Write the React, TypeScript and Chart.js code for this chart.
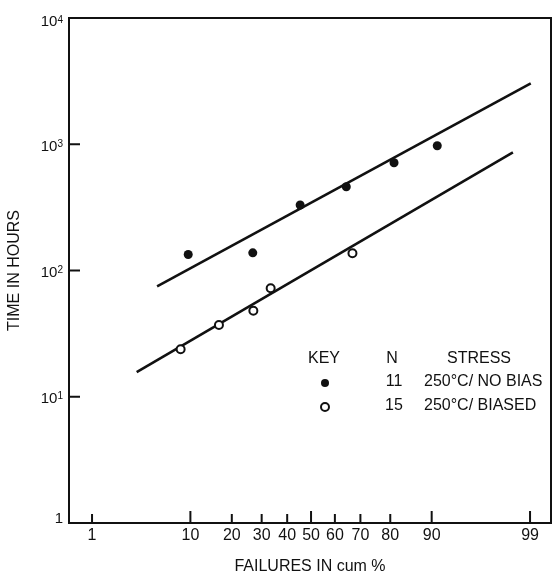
import { useEffect, useRef } from "react";
import { Chart, registerables } from "chart.js";

Chart.register(...registerables);

// ---- Data ----
const X_TICK_PCT = [1, 10, 20, 30, 40, 50, 60, 70, 80, 90, 99];
const X_TICK_LABELS = ["1", "10", "20", "30", "40", "50", "60", "70", "80", "90", "99"];
const X_MAJOR_TICKS = [10, 50, 90, 99];
const Y_TICK_VALUES = [1, 10, 100, 1000, 10000];
const Y_TICK_BASES = ["1", "10", "10", "10", "10"];
const Y_TICK_EXPONENTS = ["", "1", "2", "3", "4"];

const NO_BIAS_PCT = [9.6, 26.8, 45.4, 64.6, 81.1, 91.0];
const NO_BIAS_HOURS = [134, 138, 330, 461, 714, 973];
const BIASED_PCT = [8.3, 16.4, 27.0, 33.4, 67.0];
const BIASED_HOURS = [23.8, 37.0, 48.0, 72.3, 137];

const NO_BIAS_FIT_PCT = [5.1, 99.02];
const NO_BIAS_FIT_HOURS = [75, 3040];
const BIASED_FIT_PCT = [3.2, 98.4];
const BIASED_FIT_HOURS = [15.7, 863];

const LEGEND_HEADERS = ["KEY", "N", "STRESS"];
const LEGEND_N = ["11", "15"];
const LEGEND_STRESS = ["250\u00B0C/ NO BIAS", "250\u00B0C/ BIASED"];

// x axis range in probit (z) units
const X_MIN = -2.571;
const X_MAX = 2.549;

const FONT = "'Liberation Sans', Arial, Helvetica, sans-serif";

// Inverse normal CDF (Acklam), input in percent
function probit(pct: number): number {
  const p = pct / 100;
  const a = [-3.969683028665376e1, 2.209460984245205e2, -2.759285104469687e2, 1.38357751867269e2, -3.066479806614716e1, 2.506628277459239];
  const b = [-5.447609879822406e1, 1.615858368580409e2, -1.556989798598866e2, 6.680131188771972e1, -1.328068155288572e1];
  const c = [-7.784894002430293e-3, -3.223964580411365e-1, -2.400758277161838, -2.549732539343734, 4.374664141464968, 2.938163982698783];
  const d = [7.784695709041462e-3, 3.224671290700398e-1, 2.445134137142996, 3.754408661907416];
  const pl = 0.02425;
  const ph = 1 - pl;
  if (p < pl) {
    const q = Math.sqrt(-2 * Math.log(p));
    return (((((c[0] * q + c[1]) * q + c[2]) * q + c[3]) * q + c[4]) * q + c[5]) / ((((d[0] * q + d[1]) * q + d[2]) * q + d[3]) * q + 1);
  }
  if (p <= ph) {
    const q = p - 0.5;
    const r = q * q;
    return ((((((a[0] * r + a[1]) * r + a[2]) * r + a[3]) * r + a[4]) * r + a[5]) * q) / (((((b[0] * r + b[1]) * r + b[2]) * r + b[3]) * r + b[4]) * r + 1);
  }
  const q = Math.sqrt(-2 * Math.log(1 - p));
  return -(((((c[0] * q + c[1]) * q + c[2]) * q + c[3]) * q + c[4]) * q + c[5]) / ((((d[0] * q + d[1]) * q + d[2]) * q + d[3]) * q + 1);
}

const toPoints = (pcts: number[], hours: number[]) => pcts.map((p, i) => ({ x: probit(p), y: hours[i] }));

const framePlugin = {
  id: "frameAndKey",
  afterDraw(chart: any) {
    const { ctx, chartArea, scales } = chart;
    const { left, right, top, bottom } = chartArea;
    ctx.save();
    ctx.strokeStyle = "#111";
    ctx.lineWidth = 2;
    ctx.strokeRect(left, top, right - left, bottom - top);

    // inward ticks on x
    X_TICK_PCT.forEach((p) => {
      const x = scales.x.getPixelForValue(probit(p));
      const len = X_MAJOR_TICKS.includes(p) ? 12 : 9;
      ctx.beginPath();
      ctx.moveTo(x, bottom);
      ctx.lineTo(x, bottom - len);
      ctx.stroke();
    });
    // inward ticks on y + labels with superscript exponents
    ctx.fillStyle = "#111";
    Y_TICK_VALUES.forEach((v, i) => {
      const y = scales.y.getPixelForValue(v);
      ctx.beginPath();
      ctx.moveTo(left, y);
      ctx.lineTo(left + 11, y);
      ctx.stroke();

      const cy = Math.max(top + 3, Math.min(y + 1, bottom - 5.5));
      const baseFont = `15px ${FONT}`;
      const expFont = `10px ${FONT}`;
      ctx.font = expFont;
      const ew = Y_TICK_EXPONENTS[i] ? ctx.measureText(Y_TICK_EXPONENTS[i]).width : 0;
      ctx.font = baseFont;
      const bw = ctx.measureText(Y_TICK_BASES[i]).width;
      const rightEdge = left - 6;
      const x0 = rightEdge - ew - bw;
      ctx.textAlign = "left";
      ctx.textBaseline = "alphabetic";
      ctx.fillText(Y_TICK_BASES[i], x0, cy + 5.4);
      if (Y_TICK_EXPONENTS[i]) {
        ctx.font = expFont;
        ctx.fillText(Y_TICK_EXPONENTS[i], x0 + bw, cy + 1.5);
      }
    });

    // key / legend table
    ctx.fillStyle = "#111";
    ctx.font = `16px ${FONT}`;
    ctx.textBaseline = "middle";
    ctx.textAlign = "center";
    ctx.fillText(LEGEND_HEADERS[0], 324, 359);
    ctx.fillText(LEGEND_HEADERS[1], 392, 359);
    ctx.fillText(LEGEND_HEADERS[2], 479, 359);
    const rows = [382, 406];
    rows.forEach((y, i) => {
      ctx.textAlign = "center";
      ctx.fillText(LEGEND_N[i], 394, y);
      ctx.textAlign = "left";
      ctx.fillText(LEGEND_STRESS[i], 424, y);
      ctx.beginPath();
      ctx.arc(325, y + 1, 4, 0, Math.PI * 2);
      if (i === 0) {
        ctx.fill();
      } else {
        ctx.fillStyle = "#fff";
        ctx.fill();
        ctx.lineWidth = 2;
        ctx.strokeStyle = "#111";
        ctx.stroke();
        ctx.fillStyle = "#111";
      }
    });
    ctx.restore();
  },
};

export default function App() {
  const canvasRef = useRef<HTMLCanvasElement | null>(null);

  useEffect(() => {
    if (!canvasRef.current) return;
    const chart = new Chart(canvasRef.current, {
      type: "scatter",
      data: {
        datasets: [
          {
            label: "250°C/ NO BIAS",
            data: toPoints(NO_BIAS_PCT, NO_BIAS_HOURS),
            pointRadius: 4.5,
            pointBackgroundColor: "#111",
            pointBorderColor: "#111",
            pointBorderWidth: 0,
            showLine: false,
          },
          {
            label: "250°C/ BIASED",
            data: toPoints(BIASED_PCT, BIASED_HOURS),
            pointRadius: 4,
            pointBackgroundColor: "#fff",
            pointBorderColor: "#111",
            pointBorderWidth: 2,
            showLine: false,
          },
          {
            label: "fit no bias",
            data: toPoints(NO_BIAS_FIT_PCT, NO_BIAS_FIT_HOURS),
            showLine: true,
            borderColor: "#111",
            borderWidth: 2.6,
            pointRadius: 0,
          },
          {
            label: "fit biased",
            data: toPoints(BIASED_FIT_PCT, BIASED_FIT_HOURS),
            showLine: true,
            borderColor: "#111",
            borderWidth: 2.6,
            pointRadius: 0,
          },
        ],
      },
      options: {
        animation: false,
        responsive: false,
        layout: { autoPadding: false, padding: { top: 18, right: 1, left: 0, bottom: 0 } },
        plugins: { legend: { display: false }, tooltip: { enabled: false } },
        scales: {
          x: {
            type: "linear",
            min: X_MIN,
            max: X_MAX,
            grid: { display: false },
            border: { display: false },
            afterBuildTicks: (scale: any) => {
              scale.ticks = X_TICK_PCT.map((p) => ({ value: probit(p) }));
            },
            afterFit: (scale: any) => {
              scale.height = 51;
              scale.paddingLeft = 0;
              scale.paddingRight = 0;
            },
            ticks: {
              autoSkip: false,
              maxRotation: 0,
              padding: -5,
              color: "#111",
              font: { family: FONT, size: 16 },
              callback: (_v: any, i: number) => X_TICK_LABELS[i],
            },
            title: {
              display: true,
              text: "FAILURES IN cum %",
              color: "#111",
              font: { family: FONT, size: 16, lineHeight: 1 },
              padding: { top: 0, bottom: -1 },
            },
          },
          y: {
            type: "logarithmic",
            min: 1,
            max: 10000,
            grid: { display: false },
            border: { display: false },
            afterBuildTicks: (scale: any) => {
              scale.ticks = Y_TICK_VALUES.map((v) => ({ value: v }));
            },
            afterFit: (scale: any) => {
              scale.width = 69;
              scale.paddingTop = 0;
              scale.paddingBottom = 0;
            },
            ticks: { display: false },
            title: {
              display: true,
              text: "TIME IN HOURS",
              color: "#111",
              font: { family: FONT, size: 16, lineHeight: 1 },
              padding: { top: 7, bottom: 0 },
            },
          },
        },
      },
      plugins: [framePlugin],
    });
    return () => chart.destroy();
  }, []);

  return (
    <div style={{ position: "absolute", left: 0, top: 0, width: 552, height: 574, background: "#fff" }}>
      <canvas ref={canvasRef} width={552} height={574} style={{ display: "block" }} />
    </div>
  );
}
